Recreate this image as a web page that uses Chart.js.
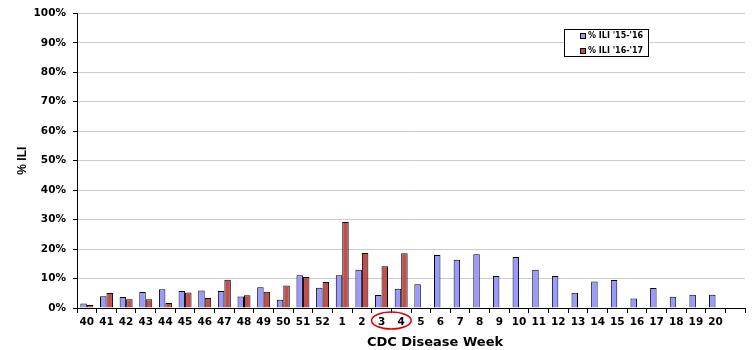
<!DOCTYPE html>
<html lang="en">
<head>
<meta charset="UTF-8">
<title>% ILI by CDC Disease Week</title>
<style>
  html, body { margin: 0; padding: 0; background: #fff; }
  #wrap { width: 755px; height: 350px; }
</style>
</head>
<body>
<div id="wrap"><canvas id="ctx"></canvas></div>
<script src="https://cdn.jsdelivr.net/npm/chart.js"></script>
<script>
// CDC disease weeks (last slot is empty on the original axis)
const weeks = ['40','41','42','43','44','45','46','47','48','49','50','51','52',
  '1','2','3','4','5','6','7','8','9','10','11','12','13','14','15','16','17','18','19','20',''];

// % ILI, season 2015-16
const ili1516 = [1.5, 4.0, 3.7, 5.4, 6.4, 5.8, 5.9, 5.8, 3.9, 7.0, 2.8, 11.1, 6.9,
  11.1, 13.0, 4.4, 6.5, 8.1, 18.0, 16.4, 18.2, 10.9, 17.3, 13.0, 10.9, 5.2, 9.0, 9.5, 3.2, 6.8, 3.8, 4.5, 4.5, null];

// % ILI, season 2016-17 (reported through week 4)
const ili1617 = [1.0, 5.1, 3.0, 3.0, 1.7, 5.3, 3.4, 9.6, 4.3, 5.5, 7.6, 10.5, 8.8,
  29.2, 18.7, 14.2, 18.6, null, null, null, null, null, null, null, null, null, null, null, null, null, null, null, null, null];

const seriesNames = ["% ILI '15-'16", "% ILI '16-'17"];
const seriesColors = ['#9999ff', '#c0504d'];
const circledWeeks = ['3', '4'];
const xTitle = 'CDC Disease Week';

const FONT = '"Liberation Sans", Arial, sans-serif';
const WIDE = '"DejaVu Sans", sans-serif';

// legend box, x title (sits right of centre in the original) and red ellipse
const extras = {
  id: 'extras',
  afterDraw(chart) {
    const c = chart.ctx;
    const x = chart.scales.x;
    c.save();

    // legend
    const lx = 564, ly = 29, lw = 84, lh = 27;
    c.fillStyle = '#fff';
    c.fillRect(lx, ly, lw, lh);
    c.strokeStyle = '#000';
    c.lineWidth = 1;
    c.strokeRect(lx + 0.5, ly + 0.5, lw, lh);
    c.font = 'bold 8px ' + WIDE;
    c.textBaseline = 'middle';
    seriesNames.forEach((name, i) => {
      const yy = ly + 7 + i * 15;
      c.fillStyle = seriesColors[i];
      c.fillRect(lx + 16, yy - 3, 6, 6);
      c.strokeStyle = '#000';
      c.strokeRect(lx + 16.5, yy - 2.5, 5, 5);
      c.fillStyle = '#000';
      c.fillText(name, lx + 24, yy);
    });

    // x axis title
    c.font = 'bold 13px ' + WIDE;
    c.textAlign = 'center';
    c.fillText(xTitle, 435, 343);

    // ellipse around week labels
    const i0 = weeks.indexOf(circledWeeks[0]);
    const i1 = weeks.indexOf(circledWeeks[1]);
    const x0 = x.getPixelForValue(i0), x1 = x.getPixelForValue(i1);
    const cx = (x0 + x1) / 2;
    const cy = x.top + 12.5;
    c.beginPath();
    c.ellipse(cx, cy, (x1 - x0) / 2 + 10, 8.5, 0, 0, Math.PI * 2);
    c.strokeStyle = '#e00000';
    c.lineWidth = 1.5;
    c.stroke();
    c.restore();
  }
};

let data = {
  labels: weeks,
  datasets: seriesNames.map((name, i) => ({
    label: name,
    data: i === 0 ? ili1516 : ili1617,
    backgroundColor: seriesColors[i],
    borderColor: '#000',
    borderWidth: 1,
    barPercentage: 1.0,
    categoryPercentage: 0.66
  }))
};

let options = {
  responsive: true,
  maintainAspectRatio: false,
  animation: false,
  layout: { padding: { top: 12, right: 10, left: 0, bottom: 0 } },
  plugins: {
    legend: { display: false },
    tooltip: { enabled: false }
  },
  scales: {
    y: {
      min: 0,
      max: 100,
      ticks: {
        stepSize: 10,
        color: '#000',
        font: { family: WIDE, size: 10.5, weight: 'bold' },
        padding: 7,
        callback: v => v + '%'
      },
      grid: { color: '#cccccc', tickColor: '#000', tickLength: 4 },
      border: { color: '#000', width: 1 },
      title: {
        display: true,
        text: '% ILI',
        color: '#000',
        font: { family: FONT, size: 12, weight: 'bold' },
        padding: { top: 15, bottom: 0 }
      },
      afterFit(scale) { scale.width = 77; }
    },
    x: {
      ticks: {
        color: '#000',
        font: { family: WIDE, size: 10.5, weight: 'bold' },
        autoSkip: false,
        maxRotation: 0,
        padding: 3
      },
      grid: { drawOnChartArea: false, tickColor: '#000', tickLength: 5, offset: true },
      border: { color: '#000', width: 1 },
      afterFit(scale) { scale.height = 42; }
    }
  }
};

new Chart(document.getElementById('ctx').getContext('2d'), {
  type: 'bar',
  data: data,
  options: options,
  plugins: [extras]
});
</script>
</body>
</html>
